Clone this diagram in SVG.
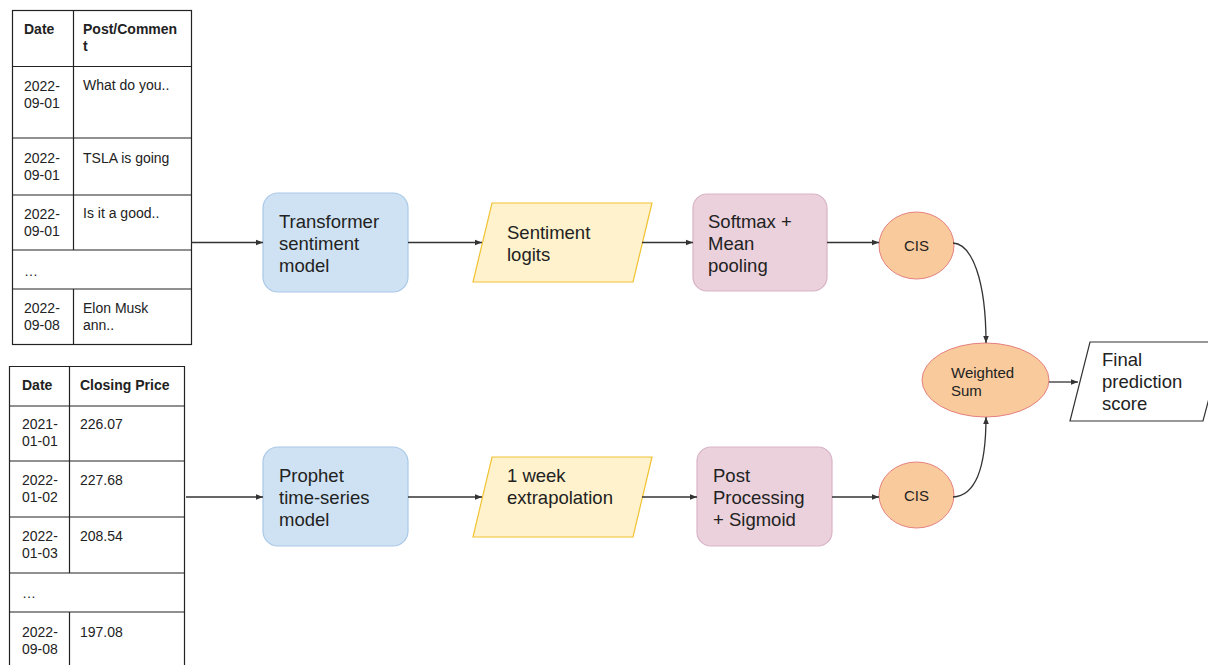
<svg xmlns="http://www.w3.org/2000/svg" width="1208" height="665" viewBox="0 0 1208 665">
<defs>
<marker id="ah" viewBox="0 0 10 10" refX="10" refY="5" markerWidth="7" markerHeight="7" markerUnits="userSpaceOnUse" orient="auto">
<path d="M0,1 L10,5 L0,9 z" fill="#333"/>
</marker>
</defs>
<style>
.tb{fill:#fff;stroke:#222;stroke-width:1.2}
.tl{stroke:#222;stroke-width:1.2;fill:none}
.tt{font-family:"Liberation Sans",Arial,sans-serif;font-size:14px;fill:#222}
.th{font-family:"Liberation Sans",Arial,sans-serif;font-size:14px;font-weight:bold;fill:#222}
.nt{font-family:"Liberation Sans",Arial,sans-serif;font-size:18.5px;fill:#222}
.ct{font-family:"Liberation Sans",Arial,sans-serif;font-size:15px;fill:#222}
.blue{fill:#cfe2f3;stroke:#a9c8e8;stroke-width:1.2}
.pink{fill:#ead1dc;stroke:#d9b3c6;stroke-width:1.2}
.yel{fill:#fff2cc;stroke:#f1c232;stroke-width:1.2}
.org{fill:#f9cb9c;stroke:#e58080;stroke-width:1}
.wht{fill:#fff;stroke:#333;stroke-width:1.2}
.cn{fill:none;stroke:#333;stroke-width:1.3;marker-end:url(#ah)}
</style>
<rect width="1208" height="665" fill="#fff"/>

<g id="posts-table">
<rect class="tb" x="12.5" y="10.5" width="179" height="334"/>
<path class="tl" d="M73.5,10.5 V250 M73.5,289 V344.5 M12.5,66.5 H191.5 M12.5,138 H191.5 M12.5,195 H191.5 M12.5,250 H191.5 M12.5,289 H191.5"/>
<text class="th" x="24" y="34">Date</text>
<text class="th" x="83" y="34">Post/Commen</text>
<text class="th" x="83" y="51">t</text>
<text class="tt" x="24" y="91">2022-</text>
<text class="tt" x="24" y="108">09-01</text>
<text class="tt" x="83" y="90">What do you..</text>
<text class="tt" x="24" y="163">2022-</text>
<text class="tt" x="24" y="180">09-01</text>
<text class="tt" x="83" y="163">TSLA is going</text>
<text class="tt" x="24" y="219">2022-</text>
<text class="tt" x="24" y="236">09-01</text>
<text class="tt" x="83" y="218">Is it a good..</text>
<text class="tt" x="24" y="276" fill="#888">…</text>
<text class="tt" x="24" y="313">2022-</text>
<text class="tt" x="24" y="330">09-08</text>
<text class="tt" x="83" y="313">Elon Musk</text>
<text class="tt" x="83" y="330">ann..</text>
</g>

<g id="price-table">
<path class="tl" d="M9.5,672 V366.5 H184.5 V672 M69.5,366.5 V573 M69.5,612 V672 M9.5,406 H184.5 M9.5,461 H184.5 M9.5,517 H184.5 M9.5,573 H184.5 M9.5,612 H184.5"/>
<text class="th" x="22" y="390">Date</text>
<text class="th" x="80" y="390">Closing Price</text>
<text class="tt" x="22" y="429">2021-</text>
<text class="tt" x="22" y="446">01-01</text>
<text class="tt" x="80" y="429">226.07</text>
<text class="tt" x="22" y="485">2022-</text>
<text class="tt" x="22" y="502">01-02</text>
<text class="tt" x="80" y="485">227.68</text>
<text class="tt" x="22" y="541">2022-</text>
<text class="tt" x="22" y="558">01-03</text>
<text class="tt" x="80" y="541">208.54</text>
<text class="tt" x="22" y="598" fill="#888">…</text>
<text class="tt" x="22" y="637">2022-</text>
<text class="tt" x="22" y="654">09-08</text>
<text class="tt" x="80" y="637">197.08</text>
</g>

<g id="transformer">
<rect class="blue" x="263" y="193" width="145" height="99" rx="15"/>
<text class="nt" x="279" y="228">Transformer</text>
<text class="nt" x="279" y="250">sentiment</text>
<text class="nt" x="279" y="272">model</text>
</g>

<g id="sentiment-logits">
<polygon class="yel" points="492,203 652,203 633,282 473,282"/>
<text class="nt" x="507" y="239">Sentiment</text>
<text class="nt" x="507" y="261">logits</text>
</g>

<g id="softmax">
<rect class="pink" x="693" y="194" width="134" height="97" rx="14"/>
<text class="nt" x="708" y="228">Softmax +</text>
<text class="nt" x="708" y="250">Mean</text>
<text class="nt" x="708" y="272">pooling</text>
</g>

<g id="cis-top">
<ellipse class="org" cx="916.5" cy="245.5" rx="37.5" ry="33.5"/>
<text class="ct" x="916.5" y="251" text-anchor="middle">CIS</text>
</g>

<g id="prophet">
<rect class="blue" x="263" y="447" width="145" height="99" rx="15"/>
<text class="nt" x="279" y="482">Prophet</text>
<text class="nt" x="279" y="504">time-series</text>
<text class="nt" x="279" y="526">model</text>
</g>

<g id="extrapolation">
<polygon class="yel" points="492,457 652,457 633,537 473,537"/>
<text class="nt" x="507" y="482">1 week</text>
<text class="nt" x="507" y="504">extrapolation</text>
</g>

<g id="postproc">
<rect class="pink" x="697" y="447" width="135" height="99" rx="14"/>
<text class="nt" x="713" y="482">Post</text>
<text class="nt" x="713" y="504">Processing</text>
<text class="nt" x="713" y="526">+ Sigmoid</text>
</g>

<g id="cis-bottom">
<ellipse class="org" cx="916.5" cy="495" rx="37.5" ry="33"/>
<text class="ct" x="916.5" y="500.5" text-anchor="middle">CIS</text>
</g>

<g id="weighted-sum">
<ellipse class="org" cx="985.5" cy="380" rx="63.5" ry="37"/>
<text class="ct" x="951" y="378">Weighted</text>
<text class="ct" x="951" y="396">Sum</text>
</g>

<g id="final-score">
<polygon class="wht" points="1090,342 1224,342 1203,421 1070,421"/>
<text class="nt" x="1102" y="366">Final</text>
<text class="nt" x="1102" y="388">prediction</text>
<text class="nt" x="1102" y="410">score</text>
</g>

<g id="connectors">
<path class="cn" d="M191,242.5 H263"/>
<path class="cn" d="M408,242.5 H482"/>
<path class="cn" d="M642,242.5 H693"/>
<path class="cn" d="M827,242.5 H879"/>
<path class="cn" d="M186,497 H263"/>
<path class="cn" d="M408,497 H482"/>
<path class="cn" d="M642,497 H697"/>
<path class="cn" d="M832,497 H879"/>
<path class="cn" d="M953,243 C972,244 986,280 986,343"/>
<path class="cn" d="M953,497 C975,496 986,470 986,417"/>
<path class="cn" d="M1049,382 H1078"/>
</g>
</svg>
